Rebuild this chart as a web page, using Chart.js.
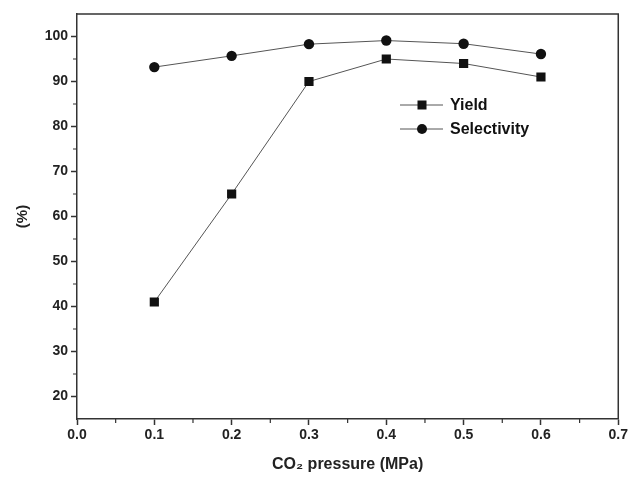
<!DOCTYPE html>
<html>
<head>
<meta charset="utf-8">
<script src="https://cdn.jsdelivr.net/npm/chart.js"></script>
<style>
  html, body { margin: 0; padding: 0; background: #fff; }
  #wrap { width: 630px; height: 477px; }
</style>
</head>
<body>
<div id="wrap"><canvas id="co2"></canvas></div>
<script>
// data
const pressure = [0.1, 0.2, 0.3, 0.4, 0.5, 0.6];
const yieldPct = [41, 65, 90, 95, 94, 91];
const selectivity = [93.2, 95.7, 98.3, 99.1, 98.4, 96.1];
const xTicks = [0, 0.1, 0.2, 0.3, 0.4, 0.5, 0.6, 0.7];
const yTicks = [20, 30, 40, 50, 60, 70, 80, 90, 100];

const FONT = "'Liberation Sans', Arial, sans-serif";
const AXIS = '#333';

// top/right frame, minor ticks and the little legend box
const extras = {
  id: 'extras',
  afterDraw(chart) {
    const ctx = chart.ctx;
    const a = chart.chartArea;
    const xs = chart.scales.x, ys = chart.scales.y;
    ctx.save();
    ctx.strokeStyle = AXIS;
    ctx.lineWidth = 1.5;
    ctx.beginPath();
    ctx.moveTo(a.left, a.top);
    ctx.lineTo(a.right, a.top);
    ctx.lineTo(a.right, a.bottom);
    ctx.stroke();

    // minor ticks halfway between the major ones
    ctx.lineWidth = 1.2;
    ctx.beginPath();
    for (let i = 0; i < xTicks.length - 1; i++) {
      const px = xs.getPixelForValue((xTicks[i] + xTicks[i + 1]) / 2);
      ctx.moveTo(px, a.bottom);
      ctx.lineTo(px, a.bottom + 4);
    }
    for (let i = 0; i < yTicks.length - 1; i++) {
      const py = ys.getPixelForValue((yTicks[i] + yTicks[i + 1]) / 2);
      ctx.moveTo(a.left, py);
      ctx.lineTo(a.left - 4, py);
    }
    ctx.stroke();

    // legend
    const rows = [
      { label: 'Yield', style: 'rect', y: 105 },
      { label: 'Selectivity', style: 'circle', y: 129 }
    ];
    ctx.font = 'bold 16px ' + FONT;
    ctx.textBaseline = 'middle';
    rows.forEach(r => {
      ctx.strokeStyle = '#555';
      ctx.lineWidth = 1;
      ctx.beginPath();
      ctx.moveTo(400, r.y);
      ctx.lineTo(443, r.y);
      ctx.stroke();
      ctx.fillStyle = '#111';
      if (r.style === 'rect') {
        ctx.fillRect(417.5, r.y - 4.5, 9, 9);
      } else {
        ctx.beginPath();
        ctx.arc(422, r.y, 5, 0, Math.PI * 2);
        ctx.fill();
      }
      ctx.fillText(r.label, 450, r.y + 1);
    });
    ctx.restore();
  }
};

new Chart('co2', {
  type: 'line',
  data: {
    datasets: [
      {
        label: 'Yield',
        data: pressure.map((p, i) => ({ x: p, y: yieldPct[i] })),
        borderColor: '#555',
        borderWidth: 1,
        pointStyle: 'rect',
        pointRadius: 6.5,
        pointBackgroundColor: '#111',
        pointBorderColor: '#111',
        pointBorderWidth: 0
      },
      {
        label: 'Selectivity',
        data: pressure.map((p, i) => ({ x: p, y: selectivity[i] })),
        borderColor: '#555',
        borderWidth: 1,
        pointStyle: 'circle',
        pointRadius: 5.2,
        pointBackgroundColor: '#111',
        pointBorderColor: '#111',
        pointBorderWidth: 0
      }
    ]
  },
  options: {
    responsive: true,
    maintainAspectRatio: false,
    animation: false,
    layout: { padding: { top: 14, right: 10, left: 0, bottom: 0 } },
    plugins: {
      legend: { display: false },
      tooltip: { enabled: false }
    },
    scales: {
      x: {
        type: 'linear',
        min: 0,
        max: 0.7,
        afterBuildTicks: s => { s.ticks = xTicks.map(v => ({ value: v })); },
        afterFit: s => { s.height = 58; },
        border: { color: AXIS, width: 1.5 },
        grid: { drawOnChartArea: false, drawTicks: true, tickLength: 6, tickColor: AXIS, tickWidth: 1.5 },
        ticks: {
          color: '#222',
          font: { family: FONT, size: 14, weight: 'bold' },
          padding: 2,
          maxRotation: 0,
          callback: v => v.toFixed(1)
        },
        title: {
          display: true,
          text: 'CO\u2082 pressure (MPa)',
          color: '#222',
          font: { family: FONT, size: 16, weight: 'bold' },
          padding: { top: 0, bottom: 3 }
        }
      },
      y: {
        min: 15,
        max: 105,
        afterBuildTicks: s => { s.ticks = yTicks.map(v => ({ value: v })); },
        afterFit: s => { s.width = 77; },
        border: { color: AXIS, width: 1.5 },
        grid: { drawOnChartArea: false, drawTicks: true, tickLength: 6, tickColor: AXIS, tickWidth: 1.5 },
        ticks: {
          color: '#222',
          font: { family: FONT, size: 14, weight: 'bold' },
          padding: 3
        },
        title: {
          display: true,
          text: '(%)',
          color: '#222',
          font: { family: FONT, size: 15, weight: 'bold' },
          padding: { top: 14, bottom: 0 }
        }
      }
    }
  },
  plugins: [extras]
});
</script>
</body>
</html>
